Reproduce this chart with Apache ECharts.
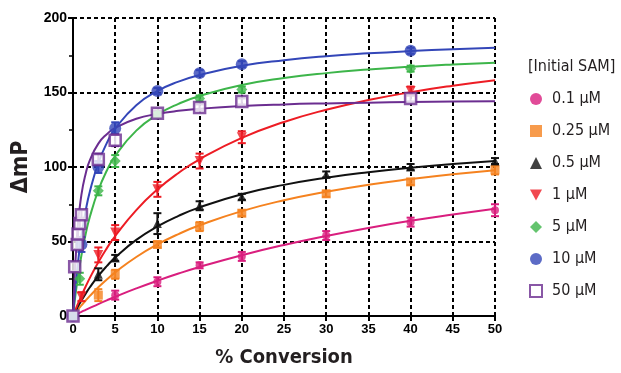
<!DOCTYPE html>
<html>
<head>
<meta charset="utf-8">
<script src="https://cdn.jsdelivr.net/npm/echarts@6/dist/echarts.min.js"></script>
<style>
  html, body { margin: 0; padding: 0; background: #fff; }
  #chart { width: 621px; height: 373px; }
</style>
</head>
<body>
<div id="chart"></div>
<script>
// concentrations (legend)
var conc = ['0.1 µM', '0.25 µM', '0.5 µM', '1 µM', '5 µM', '10 µM', '50 µM'];
var colors = ['#d91e7e', '#f5821f', '#111111', '#ed1c24', '#3db54a', '#3346b8', '#6b2d90'];

// fitted curves
var xCurve = [0, 0.5, 1, 1.5, 2, 3, 4, 5, 7.5, 10, 12.5, 15, 20, 25, 30, 35, 40, 45, 50];
var fit01  = [0, 1.4, 2.8, 4.1, 5.4, 8, 10.5, 12.9, 18.5, 23.7, 28.5, 32.9, 40.8, 47.7, 53.7, 59.1, 63.9, 68.1, 72];
var fit025 = [0, 3.7, 7.1, 10.4, 13.5, 19.3, 24.5, 29.3, 39.6, 48, 55, 60.9, 70.4, 77.7, 83.4, 88.1, 91.9, 95.2, 97.9];
var fit05  = [0, 5.4, 10.4, 15, 19.3, 26.9, 33.5, 39.3, 51.1, 60.1, 67.2, 72.9, 81.7, 88, 92.8, 96.5, 99.5, 102, 104.1];
var fit1   = [0, 7.1, 13.6, 19.8, 25.6, 36.1, 45.4, 53.7, 71.1, 84.9, 96, 105.2, 119.5, 130.2, 138.4, 144.9, 150.2, 154.6, 158.3];
var fit5   = [0, 23, 40.8, 55, 66.6, 84.4, 97.5, 107.5, 124.4, 135.1, 142.4, 147.7, 155, 159.7, 163, 165.4, 167.3, 168.8, 170];
var fit10  = [0, 31.3, 53.7, 70.5, 83.6, 102.7, 116, 125.7, 141.5, 151, 157.3, 161.8, 167.9, 171.7, 174.4, 176.3, 177.8, 179, 180];
var fit50  = [0, 56.3, 81.4, 95.5, 104.6, 115.7, 122, 126.3, 132.4, 135.6, 137.7, 139.1, 140.9, 142, 142.7, 143.2, 143.6, 143.9, 144.2];

// measured points (x, y, error)
var x01  = [0, 5, 10, 15, 20, 30, 40, 50];
var y01  = [0, 14, 23, 34, 40, 54, 63, 71];
var e01  = [1, 3, 3, 2, 3, 3, 3, 4];
var x025 = [0, 3, 5, 10, 15, 20, 30, 40, 50];
var y025 = [0, 14, 28, 48, 60, 69, 82, 90, 98];
var e025 = [1, 4, 3, 2, 3, 2, 2, 2, 3];
var x05  = [0, 3, 5, 10, 15, 20, 30, 40, 50];
var y05  = [0, 28, 39, 62, 74, 80, 95, 100, 104];
var e05  = [1, 4, 2, 7, 3, 2, 2, 2, 2];
var x1   = [0, 1, 3, 5, 10, 15, 20, 40];
var y1   = [0, 13, 41, 56, 85, 104, 120, 151];
var e1   = [1, 3, 5, 5, 5, 5, 4, 3];
var x5   = [0, 0.8, 3, 5, 10, 15, 20, 40];
var y5   = [0, 25, 84, 104, 135, 146, 152, 166];
var e5   = [1, 4, 3, 4, 2, 2, 2, 2];
var x10  = [0, 1, 3, 5, 10, 15, 20, 40];
var y10  = [0, 48, 100, 126, 151, 163, 169, 178];
var e10  = [1, 5, 4, 4, 2, 2, 2, 2];
var x50  = [0, 0.2, 0.5, 0.6, 0.8, 1, 3, 5, 10, 15, 20, 40];
var y50  = [0, 33, 48, 55, 62, 68, 105, 118, 136, 140, 144, 146];
var e50  = [1, 3, 3, 3, 3, 3, 4, 4, 2, 2, 2, 2];

var xTicks = [0, 5, 10, 15, 20, 25, 30, 35, 40, 45, 50];
var yTicks = [0, 50, 100, 150, 200];

var fits = [fit01, fit025, fit05, fit1, fit5, fit10, fit50];
var px = [x01, x025, x05, x1, x5, x10, x50];
var py = [y01, y025, y05, y1, y5, y10, y50];
var pe = [e01, e025, e05, e1, e5, e10, e50];

var symbols = ['circle', 'rect', 'triangle', 'path://M0,0 L10,0 L5,9 Z', 'diamond', 'circle', 'rect'];
var sizes = [8, 9, 9, 10, 11, 12, 11];

function pair(xs, ys) {
  var out = [];
  for (var i = 0; i < xs.length; i++) out.push([xs[i], ys[i]]);
  return out;
}

var series = [];
for (var k = 0; k < conc.length; k++) {
  series.push({
    type: 'line',
    data: pair(xCurve, fits[k]),
    smooth: 0.5,
    showSymbol: false,
    silent: true,
    lineStyle: { color: colors[k], width: 2 },
    z: 2
  });
}
for (var k = 0; k < conc.length; k++) {
  var err = [];
  for (var i = 0; i < px[k].length; i++) err.push([px[k][i], py[k][i] - pe[k][i], py[k][i] + pe[k][i]]);
  (function (c) {
    series.push({
      type: 'custom',
      data: err,
      silent: true,
      z: 3,
      renderItem: function (params, api) {
        var lo = api.coord([api.value(0), api.value(1)]);
        var hi = api.coord([api.value(0), api.value(2)]);
        var w = 4;
        var st = { stroke: c, lineWidth: 2 };
        return {
          type: 'group',
          children: [
            { type: 'line', shape: { x1: lo[0], y1: lo[1], x2: hi[0], y2: hi[1] }, style: st },
            { type: 'line', shape: { x1: lo[0] - w, y1: lo[1], x2: lo[0] + w, y2: lo[1] }, style: st },
            { type: 'line', shape: { x1: hi[0] - w, y1: hi[1], x2: hi[0] + w, y2: hi[1] }, style: st }
          ]
        };
      }
    });
  })(colors[k]);
}
for (var k = 0; k < conc.length; k++) {
  var hollow = k === 6;
  series.push({
    name: conc[k],
    type: 'scatter',
    data: pair(px[k], py[k]),
    symbol: symbols[k],
    symbolSize: sizes[k],
    itemStyle: hollow
      ? { color: '#fff', borderColor: colors[k], borderWidth: 2.5 }
      : { color: colors[k] },
    z: 4
  });
}

var legendData = [];
for (var k = 0; k < conc.length; k++) {
  legendData.push({
    name: conc[k],
    icon: symbols[k],
    itemStyle: k === 6
      ? { color: '#fff', borderColor: colors[k], borderWidth: 2 }
      : { color: colors[k] }
  });
}

var option = {
  animation: false,
  backgroundColor: '#fff',
  title: {
    text: '[Initial SAM]',
    left: 523,
    top: 54,
    textStyle: { fontFamily: 'DejaVu Sans Condensed', fontWeight: 'normal', fontSize: 16, color: '#231f20' }
  },
  legend: {
    orient: 'vertical',
    left: 524,
    top: 86,
    itemWidth: 12,
    itemHeight: 12,
    itemGap: 16,
    data: legendData,
    textStyle: { fontFamily: 'DejaVu Sans Condensed', fontSize: 16, color: '#231f20', padding: [0, 0, 0, 5] }
  },
  grid: { left: 73, right: 126, top: 18, bottom: 56, containLabel: false },
  xAxis: {
    type: 'value',
    min: 0,
    max: 50,
    interval: 5,
    name: '% Conversion',
    nameLocation: 'middle',
    nameGap: 32,
    nameTextStyle: { fontFamily: 'DejaVu Sans Condensed', fontWeight: 'bold', fontSize: 20, color: '#231f20' },
    axisLine: { lineStyle: { color: '#000', width: 2 } },
    axisTick: { show: true, length: 5, lineStyle: { color: '#000', width: 2 } },
    axisLabel: {
      fontFamily: 'Liberation Sans', fontWeight: 'bold', fontSize: 13, color: '#000', margin: 7,
      formatter: function (v) { return xTicks.indexOf(v) >= 0 ? String(v) : ''; }
    },
    splitLine: { show: true, lineStyle: { color: '#000', width: 2, type: [4, 3] } }
  },
  yAxis: {
    type: 'value',
    min: 0,
    max: 200,
    interval: 50,
    name: 'ΔmP',
    nameLocation: 'middle',
    nameGap: 40,
    nameRotate: 90,
    nameTextStyle: { fontFamily: 'DejaVu Sans Condensed', fontWeight: 'bold', fontSize: 23, color: '#231f20' },
    axisLine: { show: true, lineStyle: { color: '#000', width: 2 } },
    axisTick: { show: true, length: 5, lineStyle: { color: '#000', width: 2 } },
    minorTick: { show: true, splitNumber: 2, length: 4, lineStyle: { color: '#000', width: 1.5 } },
    axisLabel: {
      fontFamily: 'Liberation Sans', fontWeight: 'bold', fontSize: 14, color: '#000', margin: 6,
      formatter: function (v) { return yTicks.indexOf(v) >= 0 ? String(v) : ''; }
    },
    splitLine: { show: true, lineStyle: { color: '#000', width: 2, type: [4, 3] } }
  },
  series: series
};

var chart = echarts.init(document.getElementById('chart'));
chart.setOption(option);
</script>
</body>
</html>
